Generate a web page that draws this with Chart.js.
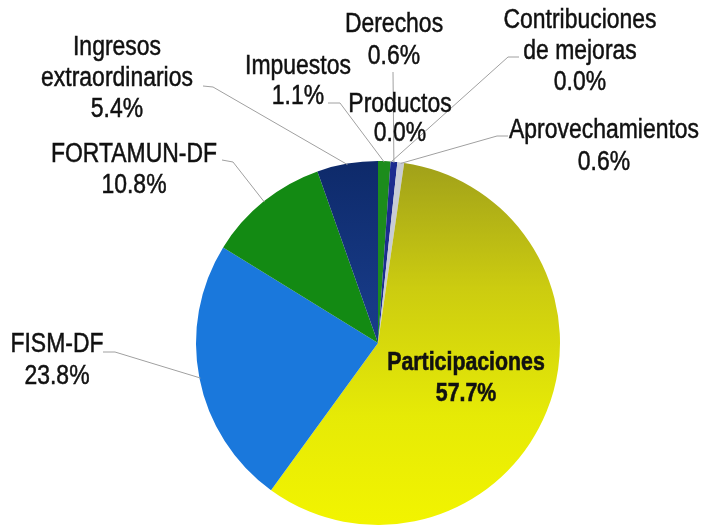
<!DOCTYPE html>
<html>
<head>
<meta charset="utf-8">
<script src="https://cdn.jsdelivr.net/npm/chart.js@4/dist/chart.umd.min.js"></script>
<style>
  html, body { margin: 0; padding: 0; background: #ffffff; }
  #wrap { width: 707px; height: 527px; position: relative; }
</style>
</head>
<body>
<div id="wrap"><canvas id="c" width="707" height="527"></canvas></div>
<script>
// ---- data ----
const categories = [
  ['Impuestos'],
  ['Contribuciones', 'de mejoras'],
  ['Derechos'],
  ['Productos'],
  ['Aprovechamientos'],
  ['Participaciones'],
  ['FISM-DF'],
  ['FORTAMUN-DF'],
  ['Ingresos', 'extraordinarios']
];
const shares = [1.1, 0.0, 0.6, 0.0, 0.6, 57.7, 23.8, 10.8, 5.4];
const valueLabels = ['1.1%', '0.0%', '0.6%', '0.0%', '0.6%', '57.7%', '23.8%', '10.8%', '5.4%'];

// ---- styling / layout ----
const sliceColors = ['#1c8c1c', '#7f7f7f', '#1c2c90', '#9a9a9a', '#c8ccd4', null, '#1a78dc', '#138a13', null];
const FONT = '"Liberation Sans", Arial, sans-serif';
// text block: centre x, first line centre y; leader: elbow then end
const labelLayout = [
  { x: 298, y: 67, lh: 30, leader: [[340, 103], [328, 103]] },
  { x: 580, y: 21, lh: 31, leader: [[508, 57], [519, 57]] },
  { x: 394, y: 25, lh: 32, leader: [[393, 72]] },
  { x: 400, y: 105, lh: 29, leader: null },
  { x: 604, y: 131, lh: 32, leader: [[497, 136], [508, 136]] },
  { x: 466, y: 363, lh: 31, leader: null, bold: true, size: 26 },
  { x: 57, y: 345, lh: 32, leader: [[115, 352], [103, 352]] },
  { x: 134, y: 155, lh: 31, leader: [[233, 162], [222, 160]] },
  { x: 117, y: 48, lh: 31, leader: [[213, 87], [203, 86]] }
];

function sliceColor(ctx) {
  const i = ctx.dataIndex;
  const chart = ctx.chart;
  const area = chart.chartArea;
  if (sliceColors[i]) return sliceColors[i];
  if (!area) return '#dddd00';
  const g = chart.ctx.createLinearGradient(0, area.top, 0, area.bottom);
  if (i === 5) {
    g.addColorStop(0, '#a0a01a');
    g.addColorStop(0.35, '#cccc10');
    g.addColorStop(0.7, '#e6ea06');
    g.addColorStop(1, '#f2f400');
  } else {
    g.addColorStop(0, '#0e2a6a');
    g.addColorStop(0.4, '#173a86');
    g.addColorStop(1, '#1d4496');
  }
  return g;
}

const labelPlugin = {
  id: 'pieLabels',
  afterDraw(chart) {
    const ctx = chart.ctx;
    const meta = chart.getDatasetMeta(0);
    ctx.save();
    // leader lines
    ctx.strokeStyle = '#a0a0a0';
    ctx.lineWidth = 1;
    meta.data.forEach((arc, i) => {
      const L = labelLayout[i];
      if (!L.leader) return;
      const p = arc.getProps(['x', 'y', 'startAngle', 'endAngle', 'outerRadius'], true);
      const mid = (p.startAngle + p.endAngle) / 2;
      const r = p.outerRadius - 1;
      const sx = p.x + Math.cos(mid) * r;
      const sy = p.y + Math.sin(mid) * r;
      ctx.beginPath();
      ctx.moveTo(sx, sy);
      L.leader.forEach(pt => ctx.lineTo(pt[0], pt[1]));
      ctx.stroke();
    });
    // texts
    ctx.fillStyle = '#111111';
    ctx.strokeStyle = '#111111';
    ctx.textAlign = 'center';
    ctx.textBaseline = 'middle';
    categories.forEach((lines, i) => {
      const L = labelLayout[i];
      const size = L.size || 27;
      const squeeze = L.bold ? 0.82 : 0.85; // condensed (Arial Narrow-like) look
      ctx.font = (L.bold ? 'bold ' : '') + size + 'px ' + FONT;
      ctx.lineWidth = L.bold ? 0.6 : 0.5;
      const all = lines.concat([valueLabels[i]]);
      all.forEach((t, k) => {
        ctx.save();
        ctx.translate(L.x, L.y + k * L.lh);
        ctx.scale(squeeze, 1);
        ctx.fillText(t, 0, 0);
        ctx.strokeText(t, 0, 0);
        ctx.restore();
      });
    });
    ctx.restore();
  }
};

new Chart(document.getElementById('c'), {
  type: 'pie',
  data: {
    labels: categories.map(l => l.join(' ')),
    datasets: [{
      data: shares,
      backgroundColor: sliceColor,
      borderWidth: 0
    }]
  },
  options: {
    responsive: false,
    animation: false,
    layout: { padding: { left: 196, right: 147, top: 161, bottom: 2 } },
    plugins: {
      legend: { display: false },
      tooltip: { enabled: false }
    }
  },
  plugins: [labelPlugin]
});
</script>
</body>
</html>
